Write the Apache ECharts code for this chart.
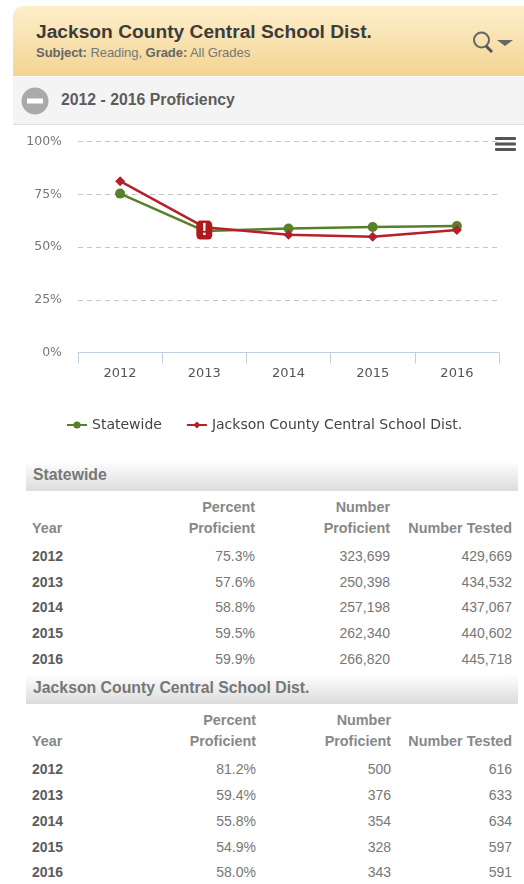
<!DOCTYPE html>
<html>
<head>
<meta charset="utf-8">
<script src="https://cdn.jsdelivr.net/npm/echarts@6/dist/echarts.min.js"></script>
<style>
  html, body { margin: 0; padding: 0; background: #fff; }
  body { position: relative; width: 524px; height: 884px; overflow: hidden; font-family: "Liberation Sans", Arial, sans-serif; }
  .abs { position: absolute; white-space: nowrap; }
  #head { left: 13px; top: 6px; width: 511px; height: 70px; border-radius: 10px 0 0 0; background: linear-gradient(#fdeecb, #f3d593); }
  #title { left: 36px; top: 21px; font-size: 19.2px; font-weight: bold; line-height: 22px; color: #3c3c3c; }
  #sub { left: 36px; top: 46px; font-size: 13.1px; letter-spacing: -0.1px; line-height: 14px; color: #777; }
  #sub b { color: #666; }
  #bar { left: 13px; top: 77px; width: 511px; height: 47px; background: #f4f4f4; border-bottom: 1px solid #ddd; }
  #bartitle { left: 61px; top: 91px; font-size: 15.8px; font-weight: bold; line-height: 18px; color: #5c5c5c; }
  #chart { left: 0; top: 125px; width: 524px; height: 325px; }
  .band { left: 26px; width: 492px; height: 28px; background: linear-gradient(#fcfcfc, #dcdcdc); }
  .bandtxt { left: 33px; font-size: 15.8px; font-weight: bold; line-height: 18px; color: #777; }
  .c { font-size: 14px; line-height: 18px; color: #777; }
  .c.h { color: #888; font-weight: bold; font-size: 14.4px; }
  .c.y { font-weight: bold; color: #5c5c5c; }
</style>
</head>
<body>
<div class="abs" id="head"></div>
<div class="abs" id="title">Jackson County Central School Dist.</div>
<div class="abs" id="sub"><b>Subject:</b> Reading, <b>Grade:</b> All Grades</div>
<svg class="abs" style="left:470px;top:26px" width="46" height="30">
  <circle cx="11.5" cy="14" r="7.5" fill="none" stroke="#666" stroke-width="2"/>
  <line x1="16" y1="20" x2="22" y2="26" stroke="#555" stroke-width="3"/>
  <path d="M27 14 L43 14 L35 20 Z" fill="#666"/>
</svg>
<div class="abs" id="bar"></div>
<svg class="abs" style="left:21px;top:87px" width="28" height="28">
  <circle cx="14" cy="14" r="13.5" fill="#aaa"/>
  <rect x="6" y="11.5" width="16" height="5" fill="#fff"/>
</svg>
<div class="abs" id="bartitle">2012 - 2016 Proficiency</div>
<div class="abs" id="chart"></div>
<div id="tables"></div>
<script>
var years = ['2012', '2013', '2014', '2015', '2016']
var yTicks = [0, 25, 50, 75, 100]
var stateName = 'Statewide'
var districtName = 'Jackson County Central School Dist.'
var statePct = [75.3, 57.6, 58.8, 59.5, 59.9]
var stateProficient = [323699, 250398, 257198, 262340, 266820]
var stateTested = [429669, 434532, 437067, 440602, 445718]
var districtPct = [81.2, 59.4, 55.8, 54.9, 58.0]
var districtProficient = [500, 376, 354, 328, 343]
var districtTested = [616, 633, 634, 597, 591]

function cell(txt, cls, y, left, right) {
  var d = document.createElement('div')
  d.className = 'abs c ' + cls
  d.textContent = txt
  d.style.top = (y - 9) + 'px'
  if (left != null) d.style.left = left + 'px'
  else d.style.right = (524 - right) + 'px'
  document.getElementById('tables').appendChild(d)
}

function drawTable(name, top, pct, prof, tested, rowYs, cols) {
  var tables = document.getElementById('tables')
  var band = document.createElement('div')
  band.className = 'abs band'
  band.style.top = top + 'px'
  tables.appendChild(band)
  var txt = document.createElement('div')
  txt.className = 'abs bandtxt'
  txt.style.top = (top + 3) + 'px'
  txt.textContent = name
  tables.appendChild(txt)

  cell('Percent', 'h', top + 44, null, cols[0])
  cell('Number', 'h', top + 44, null, cols[1])
  cell('Year', 'h', top + 65, 32)
  cell('Proficient', 'h', top + 65, null, cols[0])
  cell('Proficient', 'h', top + 65, null, cols[1])
  cell('Number Tested', 'h', top + 65, null, cols[2])

  years.forEach(function(year, i) {
    cell(year, 'y', rowYs[i], 32)
    cell(pct[i].toFixed(1) + '%', '', rowYs[i], null, cols[0])
    cell(prof[i].toLocaleString('en-US'), '', rowYs[i], null, cols[1])
    cell(tested[i].toLocaleString('en-US'), '', rowYs[i], null, cols[2])
  })
}

drawTable(stateName, 463, statePct, stateProficient, stateTested, [556, 582, 607, 633, 659], [255, 390, 512])
drawTable(districtName, 676, districtPct, districtProficient, districtTested, [769, 795, 821, 847, 872], [256, 391, 512])

var chart = echarts.init(document.getElementById('chart'))
chart.setOption({
  animation: false,
  textStyle: { fontFamily: 'DejaVu Sans' },
  grid: { left: 78, right: 25, top: 16.5, bottom: 97.5 },
  legend: {
    top: 288,
    left: 61,
    itemGap: 24,
    itemWidth: 20,
    itemHeight: 9,
    selectedMode: false,
    textStyle: { fontFamily: 'DejaVu Sans', fontSize: 14, color: '#444' },
    data: [stateName, districtName]
  },
  xAxis: {
    type: 'category',
    data: years,
    boundaryGap: true,
    axisLine: { show: true, lineStyle: { color: '#c0d0e0', width: 1 } },
    axisTick: { show: true, alignWithLabel: false, length: 11, lineStyle: { color: '#c0d0e0', width: 1 } },
    axisLabel: { color: '#555', fontSize: 13, margin: 15 },
    splitLine: { show: false }
  },
  yAxis: {
    type: 'value',
    min: yTicks[0],
    max: yTicks[yTicks.length - 1],
    interval: 25,
    axisLine: { show: false },
    axisTick: { show: false },
    axisLabel: { color: '#777', fontSize: 12.5, margin: 16, formatter: '{value}%' },
    splitLine: { lineStyle: { color: '#c4c4c4', type: [5, 4], width: 1 } }
  },
  graphic: [
    { type: 'rect', shape: { x: 495, y: 12, width: 21, height: 3, r: 1 }, style: { fill: '#555' }, z: 10 },
    { type: 'rect', shape: { x: 495, y: 17.5, width: 21, height: 3, r: 1 }, style: { fill: '#555' }, z: 10 },
    { type: 'rect', shape: { x: 495, y: 23, width: 21, height: 3, r: 1 }, style: { fill: '#555' }, z: 10 }
  ],
  series: [
    {
      name: stateName,
      type: 'line',
      data: statePct,
      symbol: 'circle',
      symbolSize: 10,
      itemStyle: { color: '#58802a' },
      lineStyle: { color: '#58802a', width: 2.5 }
    },
    {
      name: districtName,
      type: 'line',
      data: districtPct,
      symbol: 'diamond',
      symbolSize: 10,
      itemStyle: { color: '#b5202a' },
      lineStyle: { color: '#b5202a', width: 2.5 },
      markPoint: {
        symbol: 'roundRect',
        symbolSize: [16, 19],
        itemStyle: { color: '#ae1a1e' },
        label: { show: true, formatter: '!', color: '#fff', fontSize: 17, fontWeight: 'bold', fontFamily: 'Liberation Sans' },
        data: [{ coord: ['2013', 58] }]
      }
    }
  ]
})
</script>
</body>
</html>
